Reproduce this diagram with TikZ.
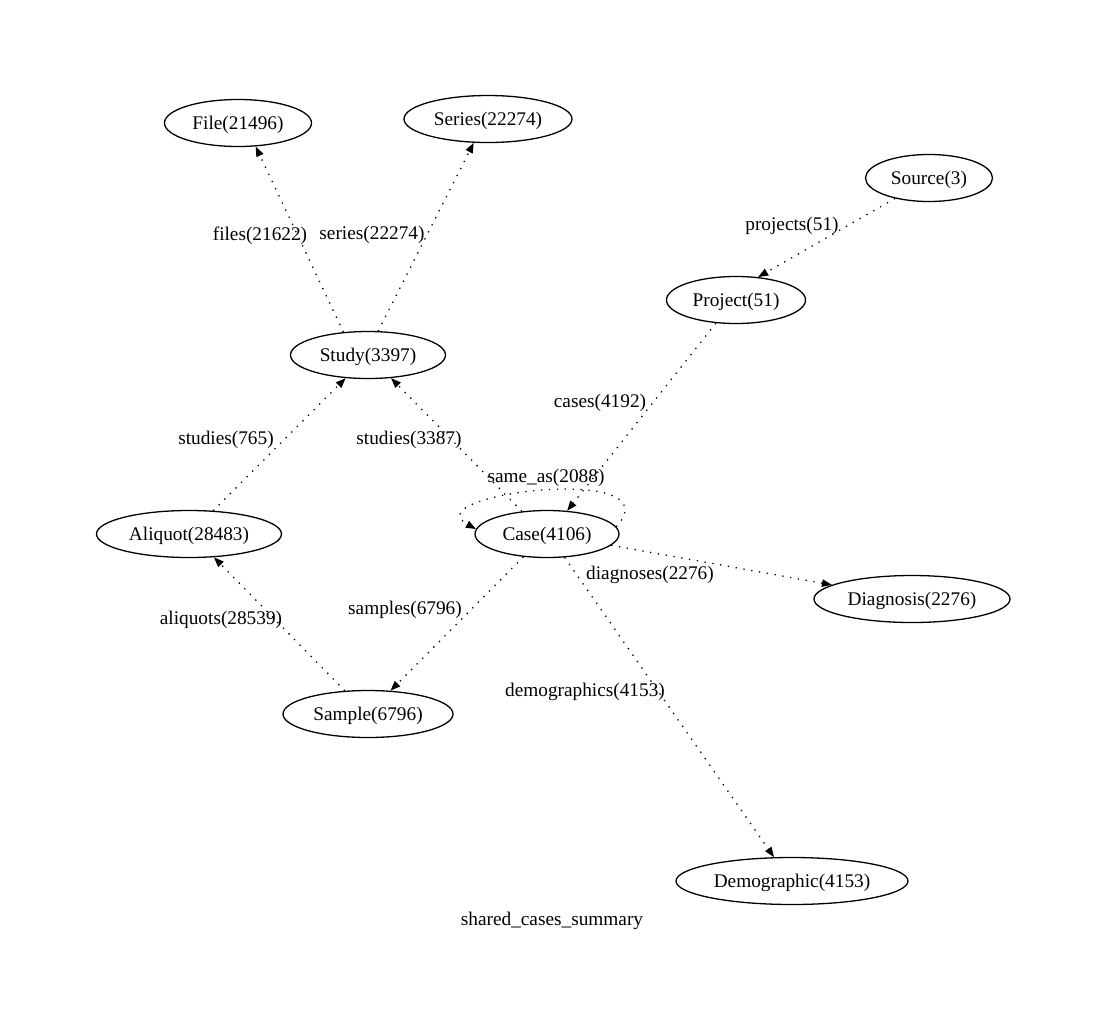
\documentclass[tikz,border=0pt]{standalone}
\usepackage{fontspec}
\setmainfont{Liberation Serif}
\usetikzlibrary{shapes.geometric,arrows.meta}
\begin{document}
\begin{tikzpicture}[x=1pt,y=-1pt,
  every node/.style={font=\fontsize{19.3}{23}\selectfont,text height=17.3pt,text depth=4pt},
  ent/.style={draw,ellipse,line width=1.3pt,inner sep=0pt,minimum height=47pt},
  lbl/.style={inner sep=0pt,fill=none},
  rel/.style={line width=1.3pt,dash pattern=on 1.3pt off 6.6pt,-{Triangle[length=10pt,width=7.5pt]}}]
\useasboundingbox (0,0) rectangle (1106,1031);
\node[ent,minimum width=147pt] (file) at (238,123) {File(21496)};
\node[ent,minimum width=168pt] (series) at (488,119) {Series(22274)};
\node[ent,minimum width=127pt] (source) at (929,178) {Source(3)};
\node[ent,minimum width=139pt] (project) at (736,300) {Project(51)};
\node[ent,minimum width=155pt] (study) at (368,355) {Study(3397)};
\node[ent,minimum width=185pt] (aliquot) at (189,534) {Aliquot(28483)};
\node[ent,minimum width=144pt] (case) at (547,534) {Case(4106)};
\node[ent,minimum width=196pt] (diag) at (912,599) {Diagnosis(2276)};
\node[ent,minimum width=170pt] (sample) at (368,714) {Sample(6796)};
\node[ent,minimum width=232pt] (demo) at (792,881) {Demographic(4153)};
\node[lbl] (title) at (552,919) {shared\_cases\_summary};

\draw[rel] (study.137) -- (file.-53);
\draw[rel] (study.67) -- (series.239);
\draw[rel] (source.211) -- (project.46);
\draw[rel] (project.229) -- (case.49);
\draw[rel] (case.138) -- (study.-45);
\draw[rel] (aliquot.44) -- (study.226);
\draw[rel] (case.224) -- (sample.46);
\draw[rel] (sample.135) -- (aliquot.-43);
\draw[rel] (case.-10) -- (diag.170);
\draw[rel] (case.-53) -- (demo.127);
\draw[rel] (case.6) .. controls (676,462) and (412,494) .. (case.176);

\node[lbl] at (260,234) {files(21622)};
\node[lbl] at (372,233) {series(22274)};
\node[lbl] at (792,224) {projects(51)};
\node[lbl] at (600,401) {cases(4192)};
\node[lbl] at (409,438) {studies(3387)};
\node[lbl] at (226,438) {studies(765)};
\node[lbl] at (546,476) {same\_as(2088)};
\node[lbl] at (405,608) {samples(6796)};
\node[lbl] at (221,618) {aliquots(28539)};
\node[lbl] at (650,573) {diagnoses(2276)};
\node[lbl] at (585,690) {demographics(4153)};
\end{tikzpicture}
\end{document}
